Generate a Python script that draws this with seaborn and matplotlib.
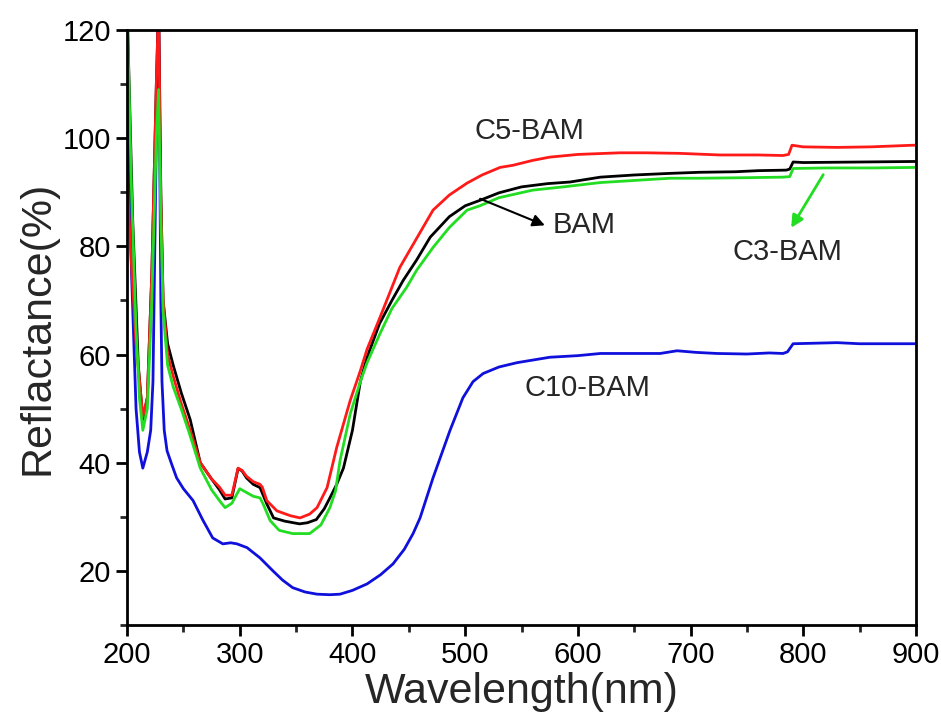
import matplotlib
matplotlib.use("Agg")
import matplotlib.pyplot as plt
from matplotlib.ticker import MultipleLocator
import seaborn as sns
import pandas as pd

# ---- data ----
bam_x = [200, 205, 210, 214, 218, 222, 226, 228, 230, 232, 236, 241, 248, 256, 265, 275, 282, 287, 293,
         298.5, 302, 306, 312, 318, 324, 330, 340, 353, 360, 368, 375, 380, 386, 392, 400, 407, 413, 424,
         435, 445, 457, 469, 486, 500, 513, 530, 550, 573, 593, 620, 650, 682, 708, 740, 760, 785, 788,
         791, 800, 850, 900]
bam_y = [125, 85, 58, 48, 52, 75, 110, 125, 90, 70, 62, 58, 53, 48, 40, 37, 35, 33.3, 33.5,
         38.9, 38.5, 37.2, 36, 35.4, 32.4, 29.8, 29.2, 28.7, 28.9, 29.5, 31.5, 33.5, 36, 39, 46, 55, 59.5, 65.7,
         70, 73.7, 77.5, 81.7, 85.5, 87.5, 88.5, 89.9, 91, 91.6, 91.9, 92.8, 93.2, 93.5, 93.7, 93.8, 94, 94.1, 94.3,
         95.6, 95.5, 95.6, 95.7]

c5_x = [200, 203, 208, 214, 218, 222, 226, 228, 230, 232, 236, 241, 248, 256, 265, 275, 282, 287, 293,
        298.5, 302, 306, 312, 318, 320, 324, 333, 345, 353.5, 362, 368.6, 377.5, 386, 398, 407, 413, 424.5,
        442, 457, 471.5, 486, 501.7, 515, 531, 542.5, 560, 575, 600, 637, 660, 690, 726, 760, 782, 787,
        790, 800, 830, 860, 897, 900]
c5_y = [93, 80, 62, 48.5, 52, 75, 110, 125, 88, 70, 60, 56, 51, 46, 40, 37, 35.5, 34, 34,
        39, 38.6, 37.5, 36.5, 36, 35.5, 33, 31.1, 30.2, 29.8, 30.5, 31.7, 35.4, 42.8, 51.5, 57, 61, 66.9,
        76.1, 81.5, 86.7, 89.5, 91.7, 93.2, 94.6, 95, 95.9, 96.5, 97, 97.3, 97.3, 97.2, 96.9, 96.9, 96.8, 97,
        98.7, 98.4, 98.3, 98.4, 98.7, 98.7]

c3_x = [200, 204, 208, 211, 214, 218, 222, 226, 228, 230, 232, 236, 241, 248, 256, 265, 275, 282, 287,
        293, 300, 306, 312, 318, 320.7, 327, 335, 347, 362, 372, 380, 385, 389, 398, 407, 413, 424.5,
        435, 448, 457, 471.5, 486, 501.7, 513, 530, 560, 587, 620, 682, 708, 750, 782, 788, 791, 820,
        860, 900]
c3_y = [125, 90, 65, 52, 46, 50, 70, 100, 109, 85, 68, 58, 54, 50, 45, 39, 35, 33, 31.7,
        32.5, 35.2, 34.5, 33.8, 33.5, 32.4, 29.3, 27.5, 26.9, 26.9, 28.5, 31.7, 34.8, 40.4, 49, 55, 58.5, 63.9,
        68.5, 72.4, 75.6, 79.8, 83.5, 86.7, 87.5, 89, 90.4, 91, 91.8, 92.6, 92.6, 92.7, 92.8, 92.9, 94.4, 94.5,
        94.5, 94.6]

c10_x = [200, 204, 208, 211, 214, 218, 221, 223, 226, 228, 230, 231, 233, 235.5, 240, 244, 250, 258.6, 267,
         276, 285, 292, 297.6, 306.5, 318, 329.5, 338, 347, 358, 368.6, 380, 389, 400, 413, 425, 436, 446,
         453.8, 460, 471.5, 486.6, 498, 507, 516, 530, 546, 575, 600, 620, 650, 673, 688, 705, 723.5, 750,
         770, 782, 786, 791, 830, 850, 900]
c10_y = [110, 75, 50, 42, 39, 42, 46, 55, 100, 125, 70, 55, 46, 42.2, 39.5, 37.2, 35.2, 33, 29.5,
         26.1, 25, 25.2, 25, 24.3, 22.4, 20, 18.3, 16.9, 16.1, 15.7, 15.6, 15.7, 16.4, 17.6, 19.3, 21.3, 24,
         26.9, 29.8, 37.2, 46, 52, 55, 56.5, 57.7, 58.5, 59.5, 59.8, 60.2, 60.2, 60.2, 60.7, 60.4, 60.2, 60.1,
         60.3, 60.2, 60.5, 62, 62.2, 62, 62]

series = [
    ("C10-BAM", c10_x, c10_y, "#1010dd"),
    ("BAM", bam_x, bam_y, "#000000"),
    ("C5-BAM", c5_x, c5_y, "#ff1a1a"),
    ("C3-BAM", c3_x, c3_y, "#22dd22"),
]

x_ticks = [200, 300, 400, 500, 600, 700, 800, 900]
y_ticks = [20, 40, 60, 80, 100, 120]

# ---- figure ----
sns.set_theme(style="ticks")
plt.rcParams["font.family"] = ["Liberation Sans", "DejaVu Sans"]

fig = plt.figure(figsize=(9.41, 7.27), dpi=100)
ax = fig.add_axes([0.135, 0.1403, 0.8384, 0.8184])

for name, xs, ys, col in series:
    df = pd.DataFrame({"Wavelength": xs, "Reflectance": ys})
    sns.lineplot(data=df, x="Wavelength", y="Reflectance", color=col, lw=2.0,
                 sort=False, estimator=None, ax=ax, legend=False)

ax.set_xlim(200, 900)
ax.set_ylim(10, 120)
ax.set_xticks(x_ticks)
ax.set_yticks(y_ticks)
ax.xaxis.set_minor_locator(MultipleLocator(50))
ax.yaxis.set_minor_locator(MultipleLocator(10))

tick_font = ["Liberation Sans Narrow", "Liberation Sans", "DejaVu Sans"]
ax.tick_params(axis="both", which="major", direction="out", length=8, width=2, labelsize=21,
               top=False, right=False, colors="black")
ax.tick_params(axis="both", which="minor", direction="out", length=5, width=2,
               top=False, right=False)
for lab in ax.get_xticklabels() + ax.get_yticklabels():
    lab.set_fontfamily(tick_font)

for sp in ax.spines.values():
    sp.set_visible(True)
    sp.set_linewidth(2)
    sp.set_color("black")

ax.set_xlabel("Wavelength(nm)", fontsize=31, labelpad=2)
ax.set_ylabel("Reflactance(%)", fontsize=31, labelpad=4)

# annotations
ax.text(508, 101.3, "C5-BAM", fontsize=21, va="center", ha="left")
ax.text(578, 83.9, "BAM", fontsize=21, va="center", ha="left")
ax.annotate("", xy=(573, 83.7), xytext=(511, 89.0),
            arrowprops=dict(arrowstyle="-|>", color="black", lw=1.5, mutation_scale=18))
ax.text(737, 78.9, "C3-BAM", fontsize=21, va="center", ha="left")
ax.annotate("", xy=(788, 83.0), xytext=(819, 93.7),
            arrowprops=dict(arrowstyle="-|>", color="#22dd22", lw=2, mutation_scale=18))
ax.text(553, 53.9, "C10-BAM", fontsize=21, va="center", ha="left")

fig.savefig("out.png", dpi=100)
